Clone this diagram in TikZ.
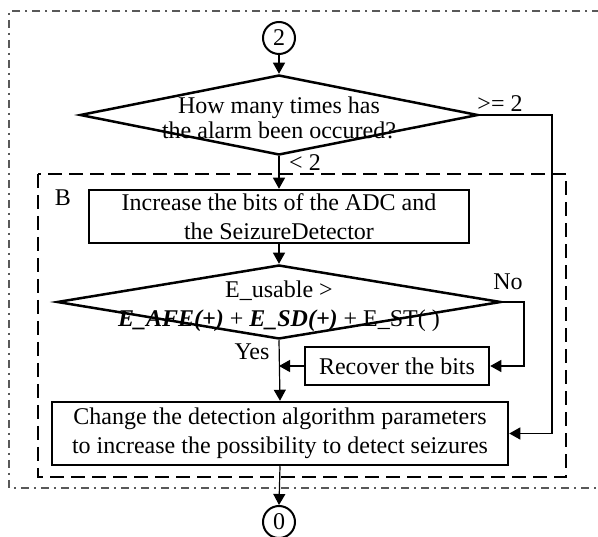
\documentclass[tikz,border=0pt]{standalone}
\usepackage{fontspec}
\setmainfont{Liberation Serif}
\usetikzlibrary{shapes.geometric,arrows.meta}
\begin{document}
\begin{tikzpicture}[x=1pt,y=-1pt,
  txt/.style={font=\fontsize{24}{29}\selectfont, inner sep=0pt, align=center},
  stepbox/.style={txt, draw, line width=2.5pt, rectangle},
  decision/.style={diamond, draw, line width=2.5pt, inner sep=0pt},
  connector/.style={txt, circle, draw, line width=2pt, minimum size=32pt},
  flow/.style={line width=1.2pt, -{Triangle[length=11pt,width=12pt]}},
  frame/.style={draw=black!65, line width=1.7pt, dash pattern=on 8pt off 5pt on 2pt off 5pt},
  groupbox/.style={draw, line width=2.8pt, dash pattern=on 14pt off 7pt}]
\useasboundingbox (0,0) rectangle (598,537);

% outer dash-dot frame and the dashed group B
\draw[frame] (600,11) -- (9,11) -- (9,488) -- (600,488);
\draw[groupbox] (38,174) rectangle (566,477);
\node[txt] (lblB) at (63,198) {B};

% nodes
\node[connector] (c2) at (279,38) {2};
\node[decision, minimum width=398pt, minimum height=80pt] (d1) at (279,115) {};
\node[txt, font=\fontsize{24}{25}\selectfont] (d1t) at (279,118) {How many times has\\the alarm been occured?};
\node[stepbox, minimum width=380pt, minimum height=53pt] (s1) at (279,216.5) {Increase the bits of the ADC and\\the SeizureDetector};
\node[decision, minimum width=444pt, minimum height=74pt] (d2) at (279,302) {};
\node[txt] (d2t) at (279,306) {E\_usable >\\\textbf{\textit{E\_AFE(+)}} + \textbf{\textit{E\_SD(+)}} + E\_ST( )};
\node[stepbox, minimum width=184pt, minimum height=38pt] (rb) at (397,366) {Recover the bits};
\node[stepbox, minimum width=456pt, minimum height=63pt] (s2) at (280,433.5) {Change the detection algorithm parameters\\to increase the possibility to detect seizures};
\node[connector] (c0) at (279,522) {0};

% branch labels
\node[txt] (lge) at (500,104) {>= 2};
\node[txt] (llt) at (305,163) {< 2};
\node[txt] (lno) at (508,282) {No};
\node[txt] (lyes) at (252,352) {Yes};

% corner points of the side branches
\coordinate (k1) at (552,115);
\coordinate (k2) at (524,302);

% connectors
\draw[flow] (c2) -- (d1.north);
\draw[flow] (d1.south) -- (s1.north);
\draw[flow] (d1.east) -- (k1) |- (s2.east);
\draw[flow] (s1.south) -- (d2.north);
\draw[flow] (d2.east) -- (k2) |- (rb.east);
\draw[flow] (rb.west) -- (rb.west -| d2.south);
\draw[flow] (d2.south) -- (s2.north);
\draw[flow] (s2.south) -- (c0.north);
\end{tikzpicture}
\end{document}
